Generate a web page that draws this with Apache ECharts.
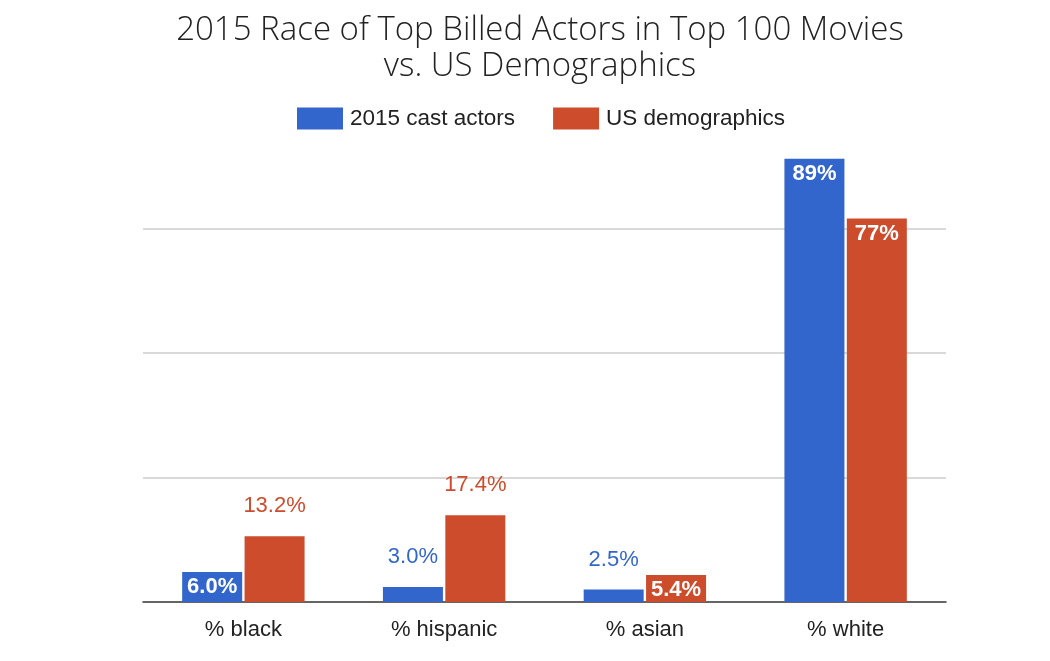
<!DOCTYPE html>
<html>
<head>
<meta charset="utf-8">
<script src="https://cdn.jsdelivr.net/npm/echarts@6/dist/echarts.min.js"></script>
<style>
html,body{margin:0;padding:0;background:#fff;}
#chart{width:1050px;height:661px;}
</style>
</head>
<body>
<div id="chart"></div>
<script>
const categories = ['% black', '% hispanic', '% asian', '% white'];
const castActors = [6.0, 3.0, 2.5, 89];
const usDemographics = [13.2, 17.4, 5.4, 77];
const castLabels = ['6.0%', '3.0%', '2.5%', '89%'];
const usLabels = ['13.2%', '17.4%', '5.4%', '77%'];
const seriesNames = ['2015 cast actors', 'US demographics'];

const BLUE = '#3366cc';
const ORANGE = '#cd4c2c';
const castInside = [true, false, false, true];
const usInside = [false, false, true, true];

function buildData(values, labels, inside, color) {
  return values.map((v, i) => ({
    value: v,
    label: inside[i] ? {
      show: true, position: 'insideTop', distance: 4, color: '#fff',
      fontWeight: 'bold', formatter: labels[i]
    } : {
      show: true, position: 'top', distance: 19, color: color,
      fontWeight: 'normal', formatter: labels[i]
    }
  }));
}

const chart = echarts.init(document.getElementById('chart'));
chart.setOption({
  animation: false,
  title: {
    text: '2015 Race of Top Billed Actors in Top 100 Movies\nvs. US Demographics',
    left: 535, top: 8, textAlign: 'center',
    textStyle: { fontFamily: 'Open Sans', fontWeight: 300, fontSize: 33, color: '#222', lineHeight: 36 }
  },
  legend: {
    top: 102, left: 292,
    itemWidth: 46, itemHeight: 22, itemGap: 38,
    icon: 'rect',
    textStyle: { fontFamily: 'Liberation Sans', fontSize: 22.5, color: '#222', padding: [0, 0, 0, 2] },
    data: seriesNames
  },
  grid: { left: 143, right: 104, top: 104, bottom: 59, containLabel: false },
  xAxis: {
    type: 'category', data: categories,
    axisLine: { lineStyle: { color: '#333', width: 1.5 } },
    axisTick: { show: false },
    axisLabel: { fontFamily: 'Liberation Sans', fontSize: 22, color: '#222', margin: 17 }
  },
  yAxis: {
    type: 'value', min: 0, max: 100, interval: 25,
    axisLabel: { show: false }, axisLine: { show: false }, axisTick: { show: false },
    splitLine: { show: true, showMinLine: false, showMaxLine: false, lineStyle: { color: '#cccccc', width: 1.5 } }
  },
  series: [
    {
      name: seriesNames[0], type: 'bar', barWidth: 60, barGap: '4%',
      itemStyle: { color: BLUE },
      label: { fontFamily: 'Liberation Sans', fontSize: 22 },
      data: buildData(castActors, castLabels, castInside, BLUE)
    },
    {
      name: seriesNames[1], type: 'bar', barWidth: 60,
      itemStyle: { color: ORANGE },
      label: { fontFamily: 'Liberation Sans', fontSize: 22 },
      data: buildData(usDemographics, usLabels, usInside, ORANGE)
    }
  ]
});
</script>
</body>
</html>
